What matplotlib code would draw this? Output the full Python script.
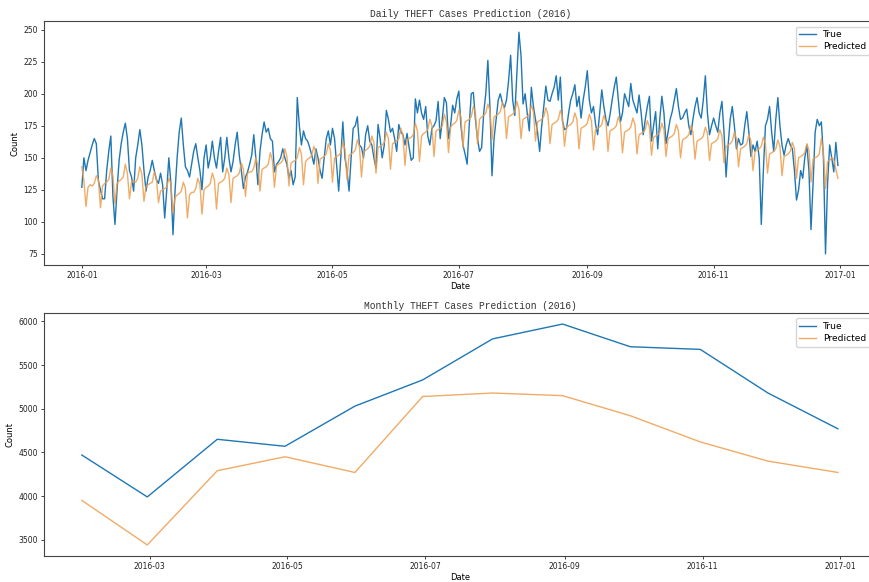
import matplotlib
matplotlib.use("Agg")
import matplotlib.pyplot as plt
import matplotlib.dates as mdates
import pandas as pd

# daily THEFT counts, 2016-01-01 .. 2016-12-31
true_daily = [
    127, 150, 140, 148, 154, 160, 165, 161, 132, 125,
    118, 118, 140, 155, 167, 120, 98, 125, 148, 161,
    170, 177, 165, 140, 135, 124, 150, 160, 172, 160,
    140,
    124, 135, 140, 148, 140, 133, 130, 138, 129, 103,
    125, 150, 130, 90, 124, 150, 170, 181, 160, 143,
    140, 135, 145, 155, 161, 150, 140, 125, 150,
    160, 142, 150, 163, 150, 142, 155, 166, 139, 150,
    166, 150, 139, 147, 160, 170, 152, 140, 126, 135,
    139, 145, 152, 168, 150, 129, 155, 168, 178, 170,
    173,
    165, 163, 139, 145, 147, 150, 157, 150, 145, 134,
    140, 129, 135, 197, 175, 160, 171, 165, 163, 158,
    152, 145, 157, 150, 140, 134, 150, 165, 171, 160,
    173, 165, 145, 124, 150, 178, 150, 140, 124, 150,
    173, 175, 182, 160, 158, 150, 168, 175, 163, 160,
    150, 142, 176, 165, 150, 160, 187, 180, 170, 173,
    165,
    155, 176, 170, 168, 160, 169, 158, 148, 150, 196,
    185, 195, 185, 180, 190, 167, 160, 173, 175, 179,
    194, 165, 180, 197, 193, 165, 175, 191, 185, 196,
    202, 175, 160, 153, 145, 175, 200, 201, 180, 165,
    155, 158, 185, 200, 226, 190, 136, 165, 180, 195,
    200, 193, 189, 195, 210, 230, 195, 183, 215, 248,
    230,
    192, 200, 185, 171, 205, 190, 180, 170, 155, 175,
    190, 206, 195, 194, 200, 205, 214, 195, 213, 179,
    172, 173, 185, 195, 200, 207, 190, 198, 181, 195,
    205,
    218, 195, 185, 190, 176, 168, 185, 203, 190, 180,
    175, 184, 195, 205, 213, 195, 178, 185, 200, 195,
    190, 208, 195, 190, 185, 199, 185, 168, 180, 190,
    198, 163, 175, 186, 157, 180, 198, 185, 161, 170,
    180, 186, 195, 204, 190, 180, 181, 185, 188, 175,
    168, 180, 190, 197, 185, 181, 195, 214, 185, 168,
    175,
    181, 175, 170, 185, 194, 170, 135, 160, 180, 190,
    175, 157, 165, 160, 161, 175, 186, 170, 151, 160,
    155, 163, 150, 98, 140, 175, 180, 190, 170, 155,
    180, 197, 175, 160, 152, 160, 165, 160, 157, 140,
    117, 125, 140, 134, 150, 160, 140, 94, 130, 170,
    180, 175, 178, 150, 75, 130, 160, 150, 139, 162,
    144,
]

pred_daily = [
    143, 132, 112,
    127, 129, 128, 130, 136, 133, 111,
    128, 130, 131, 133, 142, 136, 114,
    130, 132, 133, 135, 145, 138, 118,
    131, 132, 131, 134, 143, 137, 116,
    128, 129, 130, 131, 139, 134, 115,
    124, 125, 126, 127, 134, 130, 107,
    119, 121, 122, 124, 131, 126, 103,
    121, 123, 123, 126, 134, 129, 106,
    125, 127, 128, 130, 138, 133, 110,
    130, 131, 132, 134, 142, 137, 115,
    134, 135, 136, 138, 146, 141, 120,
    138, 139, 139, 142, 150, 144, 124,
    141, 142, 143, 145, 154, 148, 127,
    144, 145, 146, 148, 157, 151, 128,
    146, 147, 148, 150, 158, 153, 129,
    147, 149, 150, 152, 159, 154, 130,
    149, 150, 151, 153, 161, 156, 131,
    150, 151, 152, 154, 162, 157, 133,
    152, 153, 154, 156, 164, 159, 135,
    154, 156, 157, 159, 167, 162, 138,
    158, 159, 160, 162, 170, 165, 141,
    161, 162, 163, 165, 173, 168, 144,
    164, 165, 166, 168, 177, 171, 147,
    167, 169, 170, 172, 180, 175, 151,
    171, 172, 173, 175, 184, 178, 154,
    174, 176, 177, 179, 187, 182, 158,
    178, 179, 180, 182, 190, 185, 161,
    180, 182, 183, 185, 192, 187, 164,
    182, 183, 184, 186, 193, 188, 165,
    182, 183, 184, 186, 194, 188, 165,
    180, 181, 182, 184, 191, 186, 163,
    178, 179, 180, 182, 189, 184, 161,
    176, 177, 178, 180, 187, 182, 159,
    174, 175, 176, 178, 185, 180, 157,
    173, 174, 175, 177, 184, 179, 156,
    172, 173, 174, 176, 183, 178, 155,
    171, 172, 173, 175, 182, 177, 154,
    170, 171, 172, 174, 181, 176, 153,
    168, 169, 170, 172, 179, 174, 152,
    166, 167, 168, 170, 177, 172, 151,
    165, 166, 167, 169, 176, 171, 150,
    164, 165, 166, 168, 175, 170, 149,
    163, 164, 165, 167, 174, 169, 148,
    161, 162, 163, 165, 172, 167, 146,
    159, 160, 161, 163, 170, 165, 143,
    157, 158, 159, 161, 168, 163, 140,
    155, 156, 157, 159, 166, 161, 138,
    153, 154, 155, 157, 164, 159, 136,
    151, 152, 153, 155, 162, 157, 134,
    150, 151, 152, 154, 161, 156, 131,
    149, 150, 151, 153, 165, 154, 126,
    147, 148, 150, 149, 141, 134,
]

# monthly totals (month end)
month_ends = ["2016-01-31", "2016-02-29", "2016-03-31", "2016-04-30",
              "2016-05-31", "2016-06-30", "2016-07-31", "2016-08-31",
              "2016-09-30", "2016-10-31", "2016-11-30", "2016-12-31"]
true_monthly = [4470, 3990, 4650, 4570, 5030, 5330, 5800, 5970, 5710, 5680, 5180, 4770]
pred_monthly = [3950, 3440, 4290, 4450, 4270, 5140, 5180, 5150, 4920, 4620, 4400, 4270]

days = pd.date_range("2016-01-01", "2016-12-31", freq="D")
daily = pd.DataFrame({"True": true_daily, "Predicted": pred_daily}, index=days)
monthly = pd.DataFrame({"True": true_monthly, "Predicted": pred_monthly},
                       index=pd.to_datetime(month_ends))

blue = "#1f77b4"
orange = "#ee9d4c"
title_font = dict(family="Liberation Mono", size=6.9, color="#333333")

fig = plt.figure(figsize=(8.7, 5.82), dpi=100)
ax1 = fig.add_axes([0.0506, 0.5447, 0.956, 0.419])
ax2 = fig.add_axes([0.0506, 0.0447, 0.956, 0.4175])

for ax, df, title in [(ax1, daily, "Daily THEFT Cases Prediction (2016)"),
                      (ax2, monthly, "Monthly THEFT Cases Prediction (2016)")]:
    ax.plot(df.index, df["True"], color=blue, lw=1.0, label="True")
    ax.plot(df.index, df["Predicted"], color=orange, lw=1.0, alpha=0.85, label="Predicted")
    ax.set_title(title, fontdict=title_font, x=0.513, pad=3)
    ax.set_xlabel("Date", fontsize=6, labelpad=1.5)
    ax.set_ylabel("Count", fontsize=6, labelpad=3)
    ax.xaxis.set_major_locator(mdates.MonthLocator(bymonth=[1, 3, 5, 7, 9, 11]))
    ax.xaxis.set_major_formatter(mdates.DateFormatter("%Y-%m"))
    ax.tick_params(labelsize=5.5, length=2.5, width=0.6, pad=2, colors="#222222")
    for s in ax.spines.values():
        s.set_linewidth(0.8)
        s.set_color("#444444")
    ax.legend(loc="upper right", fontsize=6.6, frameon=True, handlelength=1.8,
              borderpad=0.4, labelspacing=0.3, borderaxespad=0.6, fancybox=True)

fig.savefig("out.png", dpi=100)
